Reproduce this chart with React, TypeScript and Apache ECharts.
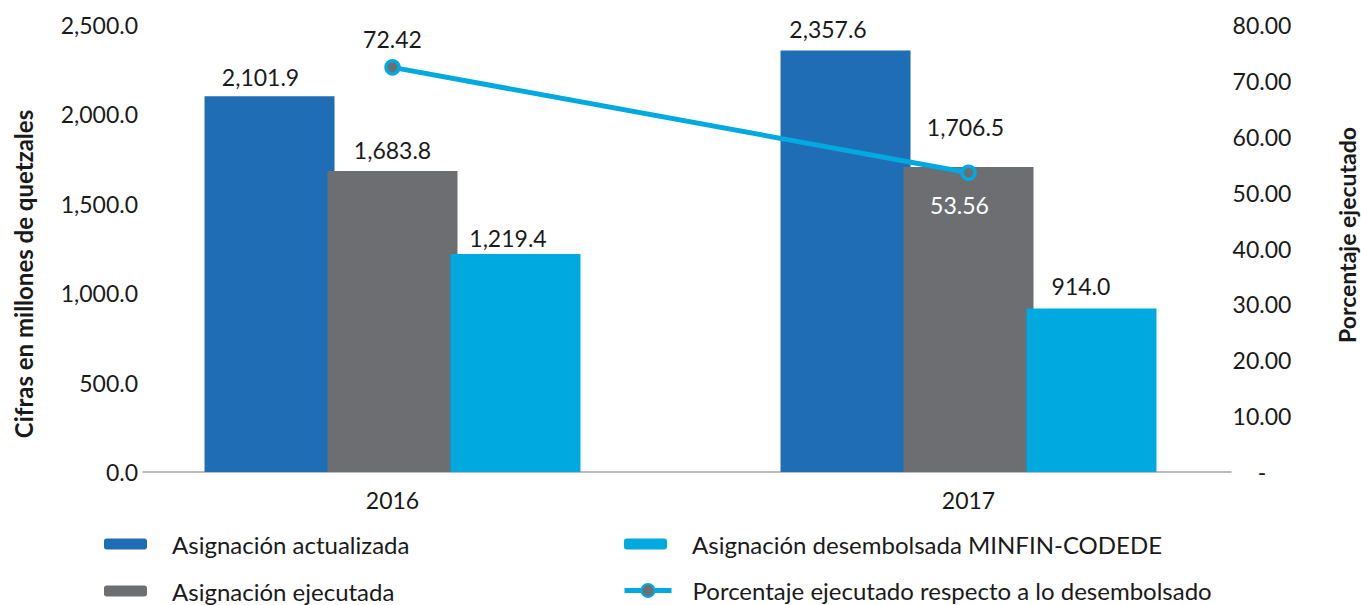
import React, { useEffect, useRef } from "react";
import * as echarts from "echarts";

// ---- data ----
const categories = ["2016", "2017"];
const asignacionActualizada = [2101.9, 2357.6];
const asignacionEjecutada = [1683.8, 1706.5];
const asignacionDesembolsada = [1219.4, 914.0];
const porcentajeEjecutado = [72.42, 53.56];

const seriesNames = [
  "Asignación actualizada",
  "Asignación ejecutada",
  "Asignación desembolsada MINFIN-CODEDE",
  "Porcentaje ejecutado respecto a lo desembolsado",
];
const leftAxisTitle = "Cifras en millones de quetzales";
const rightAxisTitle = "Porcentaje ejecutado";

// ---- styles ----
const FONT = "Lato, 'Noto Sans', sans-serif";
const FS = 23;
const LEGEND_FS = 24;
const COLORS = ["#1F6EB5", "#6D6E71", "#00A9E0"];
const LINE_COLOR = "#00A9E0";
const TEXT = "#1a1a1a";
// per-bar label tweaks [dx, distance]
const barLabelTweaks = [
  [[-9, 7.5], [-17.5, 10]],
  [[0, 9.5], [-3, 28.5]],
  [[-7.5, 4.5], [-10.5, 11.5]],
];
const lineLabelTweaks = [
  { position: "top", dx: 0, distance: 8.5, color: TEXT },
  { position: "bottom", dx: -9, distance: 13, color: "#ffffff" },
];
// legend slots: [left, top]
const legendSlots = [
  [104, 532],
  [104, 579],
  [624, 532],
  [622, 578.5],
];

const fmtQ = (v: number) =>
  v.toLocaleString("en-US", { minimumFractionDigits: 1, maximumFractionDigits: 1 });

export default function App() {
  const ref = useRef<HTMLDivElement>(null);
  useEffect(() => {
    if (!ref.current) return;
    const chart = echarts.init(ref.current, null, { renderer: "svg" });
    const barData = [asignacionActualizada, asignacionEjecutada, asignacionDesembolsada];
    const barSeries = barData.map((arr, si) => ({
      type: "bar",
      name: seriesNames[si],
      xAxisIndex: 0,
      yAxisIndex: 0,
      barWidth: 130,
      barGap: "-5.4%",
      itemStyle: { color: COLORS[si] },
      data: arr.map((v, i) => ({
        value: v,
        label: {
          show: true,
          position: "top",
          distance: barLabelTweaks[si][i][1],
          offset: [barLabelTweaks[si][i][0], 0],
          formatter: () => fmtQ(v),
          color: TEXT,
          fontFamily: FONT,
          fontSize: FS,
          lineHeight: FS,
        },
      })),
    }));
    const lineSeries = {
      type: "line",
      name: seriesNames[3],
      xAxisIndex: 0,
      yAxisIndex: 1,
      symbol: "circle",
      symbolSize: 13,
      z: 5,
      lineStyle: { color: LINE_COLOR, width: 5 },
      itemStyle: { color: "#6D6E71", borderColor: LINE_COLOR, borderWidth: 3.5 },
      data: porcentajeEjecutado.map((v, i) => ({
        value: v,
        label: {
          show: true,
          position: lineLabelTweaks[i].position,
          distance: lineLabelTweaks[i].distance,
          offset: [lineLabelTweaks[i].dx, 0],
          formatter: () => v.toFixed(2),
          color: lineLabelTweaks[i].color,
          fontFamily: FONT,
          fontSize: FS,
          lineHeight: FS,
        },
      })),
    };
    const legendText = {
      fontFamily: FONT,
      fontSize: LEGEND_FS,
      lineHeight: 22,
      color: TEXT,
      padding: [0, 0, 0, 20],
    };
    const legends = seriesNames.map((name, i) => {
      const isLine = i === 3;
      return {
        orient: "horizontal",
        padding: 0,
        left: legendSlots[i][0],
        top: legendSlots[i][1],
        itemWidth: isLine ? 47 : 43,
        itemHeight: isLine ? 16 : 11,
        lineStyle: isLine ? { width: 5 } : undefined,
        data: [name],
        textStyle: isLine ? { ...legendText, padding: [0, 0, 0, 16] } : legendText,
      };
    });
    chart.setOption({
      animation: false,
      textStyle: { fontFamily: FONT },
      grid: [
        { left: 104.5, right: 104.5, top: 25, bottom: 133 },
        { left: 143, right: 130, top: 25, bottom: 133 },
      ],
      xAxis: [
        {
          type: "category",
          gridIndex: 0,
          data: categories,
          boundaryGap: true,
          axisLine: { show: false },
          axisTick: { show: false },
          axisLabel: { color: TEXT, fontFamily: FONT, fontSize: FS, margin: 16 },
        },
        {
          type: "value",
          gridIndex: 1,
          min: 0,
          max: 1,
          axisLine: { show: true, lineStyle: { color: "#A6A6A6", width: 1.5 } },
          axisTick: { show: false },
          axisLabel: { show: false },
          splitLine: { show: false },
        },
      ],
      yAxis: [
        {
          type: "value",
          gridIndex: 0,
          min: 0,
          max: 2500,
          interval: 500,
          offset: -38.5,
          axisLine: { show: false },
          axisTick: { show: false },
          splitLine: { show: false },
          axisLabel: {
            color: TEXT,
            fontFamily: FONT,
            fontSize: FS,
            margin: 5,
            formatter: (v: number) => fmtQ(v),
          },
        },
        {
          type: "value",
          gridIndex: 0,
          position: "right",
          min: 0,
          max: 80,
          interval: 10,
          offset: -25.5,
          axisLine: { show: false },
          axisTick: { show: false },
          splitLine: { show: false },
          axisLabel: {
            color: TEXT,
            fontFamily: FONT,
            fontSize: FS,
            margin: 31,
            align: "center",
            formatter: (v: number) => (v === 0 ? "-" : v.toFixed(2)),
          },
        },
        {
          type: "value",
          gridIndex: 1,
          show: false,
          min: 0,
          max: 1,
        },
      ],
      legend: legends,
      graphic: [
        {
          type: "text",
          x: 23,
          y: 274,
          rotation: Math.PI / 2,
          style: {
            text: leftAxisTitle,
            fontFamily: FONT,
            fontSize: 24,
            fontWeight: "bold",
            fill: TEXT,
            align: "center",
            verticalAlign: "middle",
          },
        },
        {
          type: "text",
          x: 1347,
          y: 235,
          rotation: Math.PI / 2,
          style: {
            text: rightAxisTitle,
            fontFamily: FONT,
            fontSize: 23,
            fontWeight: "bold",
            fill: TEXT,
            align: "center",
            verticalAlign: "middle",
          },
        },
      ],
      series: [...barSeries, lineSeries],
    });
    return () => chart.dispose();
  }, []);
  return <div ref={ref} style={{ width: 1361, height: 605, position: "absolute", left: 0, top: 0 }} />;
}
